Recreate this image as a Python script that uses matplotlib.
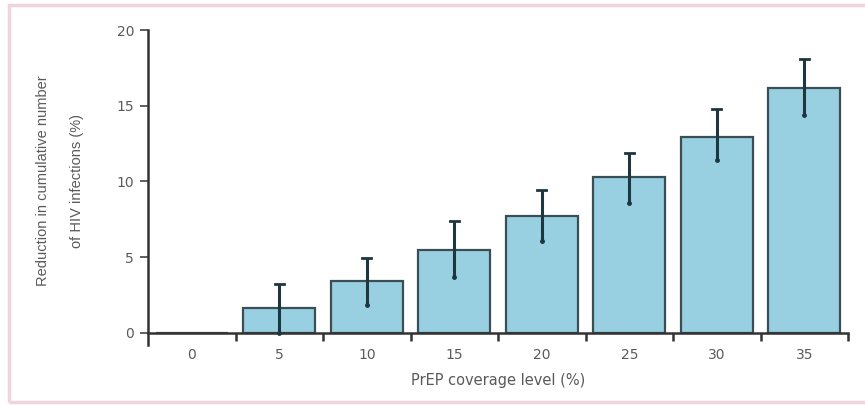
import matplotlib
matplotlib.use('Agg')
import matplotlib.pyplot as plt
from matplotlib.patches import Rectangle

# data
coverage = ['0', '5', '10', '15', '20', '25', '30', '35']
reduction = [0.0, 1.65, 3.45, 5.5, 7.75, 10.3, 12.95, 16.15]
err_low = [0.0, 0.0, 1.85, 3.7, 6.1, 8.6, 11.4, 14.4]
err_high = [0.0, 3.2, 4.95, 7.4, 9.45, 11.9, 14.8, 18.1]
ylabel_lines = ['Reduction in cumulative number', 'of HIV infections (%)']

bar_color = '#98d0e2'
edge_color = '#3a4f55'
err_color = '#1e3640'
text_color = '#5a5a5a'

fig = plt.figure(figsize=(8.65, 4.05), dpi=100)
ax = fig.add_axes([148/865, 1-345/405, 700/865, 315/405])

x = list(range(len(coverage)))
ax.bar(x, reduction, width=0.82, color=bar_color, edgecolor=edge_color,
       linewidth=1.6, zorder=2)
for i in x[1:]:
    ax.plot([i, i], [err_low[i], err_high[i]], color=err_color, lw=2.2, zorder=3,
            solid_capstyle='butt')
    ax.plot([i - 0.05, i + 0.05], [err_high[i], err_high[i]], color=err_color,
            lw=2, zorder=3)
    ax.plot(i, err_low[i], marker='o', ms=2.5, color=err_color, zorder=3)

ax.set_xlim(-0.5, len(coverage) - 0.5)
ax.set_ylim(-0.8, 20)
ax.spines['top'].set_visible(False)
ax.spines['right'].set_visible(False)
ax.spines['bottom'].set_position(('data', 0))
for s in ('left', 'bottom'):
    ax.spines[s].set_color('#333333')
    ax.spines[s].set_linewidth(1.8)

ax.set_yticks([0, 5, 10, 15, 20])
ax.tick_params(axis='y', direction='out', length=6, width=1.2, color='#444444',
               labelsize=10, labelcolor=text_color, pad=4)
ax.set_xticks(x)
ax.set_xticklabels(coverage)
ax.tick_params(axis='x', which='major', length=0, labelsize=10,
               labelcolor=text_color, pad=11)
ax.set_xticks([i + 0.5 for i in x], minor=True)
ax.tick_params(axis='x', which='minor', direction='out', length=6, width=1.8,
               color='#333333')

ax.set_xlabel('PrEP coverage level (%)', fontsize=10.5, color=text_color,
              labelpad=8)
for xpos, line in zip([43, 77], ylabel_lines):
    fig.text(xpos/865, 1-181/405, line, rotation=90, ha='center', va='center',
             fontsize=10.5, color=text_color, family='Liberation Sans')

# pink frame round the figure (open on the right, as in the picture)
fig.patches.append(Rectangle((9/865, 3/405), 1.5, 397/405, transform=fig.transFigure,
                             fill=False, edgecolor='#f0d4dc', linewidth=2.5))

fig.savefig('out.png', dpi=100)
